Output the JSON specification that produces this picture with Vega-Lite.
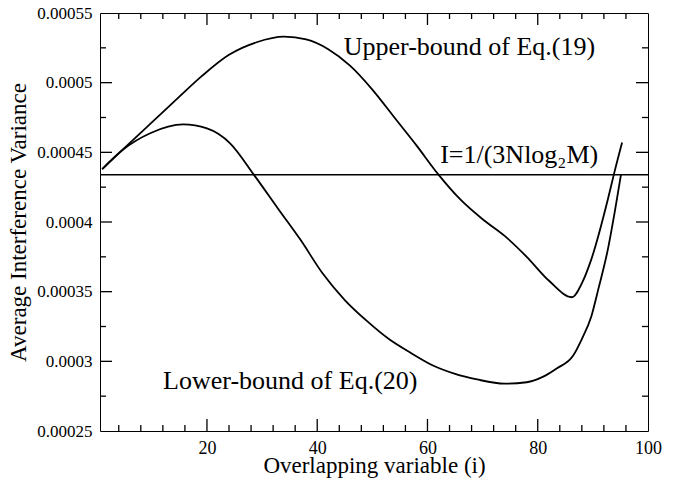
{
  "$schema": "https://vega.github.io/schema/vega-lite/v6.json",
  "autosize": {"type": "none"},
  "padding": {"left": 100, "top": 13, "right": 25, "bottom": 52},
  "width": 548,
  "height": 418,
  "background": "white",
  "config": {
    "view": {"stroke": "#000", "strokeWidth": 1},
    "font": "Liberation Serif"
  },
  "datasets": {
    "curves": [
      {"series": "upper", "x": 1, "y": 0.000438},
      {"series": "upper", "x": 5, "y": 0.000453},
      {"series": "upper", "x": 10, "y": 0.0004715},
      {"series": "upper", "x": 15, "y": 0.00049},
      {"series": "upper", "x": 19, "y": 0.0005045},
      {"series": "upper", "x": 24, "y": 0.00052},
      {"series": "upper", "x": 29, "y": 0.000529},
      {"series": "upper", "x": 34, "y": 0.000533},
      {"series": "upper", "x": 38, "y": 0.000531},
      {"series": "upper", "x": 42, "y": 0.000524},
      {"series": "upper", "x": 46, "y": 0.000512},
      {"series": "upper", "x": 50, "y": 0.000495},
      {"series": "upper", "x": 54, "y": 0.000475},
      {"series": "upper", "x": 58, "y": 0.000455},
      {"series": "upper", "x": 62, "y": 0.000434},
      {"series": "upper", "x": 66, "y": 0.000416},
      {"series": "upper", "x": 70, "y": 0.000402},
      {"series": "upper", "x": 74, "y": 0.00039},
      {"series": "upper", "x": 78, "y": 0.000375},
      {"series": "upper", "x": 82, "y": 0.000358},
      {"series": "upper", "x": 86.2, "y": 0.000346},
      {"series": "upper", "x": 88, "y": 0.000356},
      {"series": "upper", "x": 89.7, "y": 0.000373},
      {"series": "upper", "x": 92.7, "y": 0.000416},
      {"series": "upper", "x": 93.8, "y": 0.000434},
      {"series": "upper", "x": 95.3, "y": 0.000457},
      {"series": "lower", "x": 1, "y": 0.000438},
      {"series": "lower", "x": 4.8, "y": 0.000452},
      {"series": "lower", "x": 9.7, "y": 0.0004637},
      {"series": "lower", "x": 15.7, "y": 0.00047},
      {"series": "lower", "x": 20, "y": 0.0004672},
      {"series": "lower", "x": 24.2, "y": 0.0004565},
      {"series": "lower", "x": 28.5, "y": 0.000434},
      {"series": "lower", "x": 33, "y": 0.000409},
      {"series": "lower", "x": 37, "y": 0.000387},
      {"series": "lower", "x": 41, "y": 0.000363},
      {"series": "lower", "x": 45, "y": 0.000344},
      {"series": "lower", "x": 49, "y": 0.000329},
      {"series": "lower", "x": 53, "y": 0.000316},
      {"series": "lower", "x": 57, "y": 0.000306},
      {"series": "lower", "x": 61, "y": 0.000297},
      {"series": "lower", "x": 65, "y": 0.000291},
      {"series": "lower", "x": 69, "y": 0.000287},
      {"series": "lower", "x": 74, "y": 0.000284},
      {"series": "lower", "x": 78, "y": 0.000285},
      {"series": "lower", "x": 81, "y": 0.000289},
      {"series": "lower", "x": 83.5, "y": 0.000295},
      {"series": "lower", "x": 86.4, "y": 0.000304},
      {"series": "lower", "x": 88, "y": 0.000316},
      {"series": "lower", "x": 89.7, "y": 0.000332},
      {"series": "lower", "x": 91, "y": 0.000352},
      {"series": "lower", "x": 92.7, "y": 0.00038},
      {"series": "lower", "x": 94, "y": 0.000408},
      {"series": "lower", "x": 95.1, "y": 0.000434}
    ],
    "hline": [
      {"x": 0.6, "y": 0.000434},
      {"x": 100, "y": 0.000434}
    ],
    "annotations": [
      {"x": 44.8, "y": 0.00052, "label": "Upper-bound of Eq.(19)"},
      {"x": 12.05, "y": 0.00028, "label": "Lower-bound of Eq.(20)"},
      {"x": 62.3, "y": 0.0004423, "label": "I=1/(3Nlog₂M)"}
    ],
    "xTicks": [
      {"v": 20, "y0": 0.00025, "y1": 0.0002586}, {"v": 40, "y0": 0.00025, "y1": 0.0002586}, {"v": 60, "y0": 0.00025, "y1": 0.0002586}, {"v": 80, "y0": 0.00025, "y1": 0.0002586},
      {"v": 20, "y0": 0.00055, "y1": 0.0005414}, {"v": 40, "y0": 0.00055, "y1": 0.0005414}, {"v": 60, "y0": 0.00055, "y1": 0.0005414}, {"v": 80, "y0": 0.00055, "y1": 0.0005414},
      {"v": 4, "y0": 0.00025, "y1": 0.0002543}, {"v": 8, "y0": 0.00025, "y1": 0.0002543}, {"v": 12, "y0": 0.00025, "y1": 0.0002543}, {"v": 16, "y0": 0.00025, "y1": 0.0002543},
      {"v": 24, "y0": 0.00025, "y1": 0.0002543}, {"v": 28, "y0": 0.00025, "y1": 0.0002543}, {"v": 32, "y0": 0.00025, "y1": 0.0002543}, {"v": 36, "y0": 0.00025, "y1": 0.0002543},
      {"v": 44, "y0": 0.00025, "y1": 0.0002543}, {"v": 48, "y0": 0.00025, "y1": 0.0002543}, {"v": 52, "y0": 0.00025, "y1": 0.0002543}, {"v": 56, "y0": 0.00025, "y1": 0.0002543},
      {"v": 64, "y0": 0.00025, "y1": 0.0002543}, {"v": 68, "y0": 0.00025, "y1": 0.0002543}, {"v": 72, "y0": 0.00025, "y1": 0.0002543}, {"v": 76, "y0": 0.00025, "y1": 0.0002543},
      {"v": 84, "y0": 0.00025, "y1": 0.0002543}, {"v": 88, "y0": 0.00025, "y1": 0.0002543}, {"v": 92, "y0": 0.00025, "y1": 0.0002543}, {"v": 96, "y0": 0.00025, "y1": 0.0002543},
      {"v": 4, "y0": 0.00055, "y1": 0.0005457}, {"v": 8, "y0": 0.00055, "y1": 0.0005457}, {"v": 12, "y0": 0.00055, "y1": 0.0005457}, {"v": 16, "y0": 0.00055, "y1": 0.0005457},
      {"v": 24, "y0": 0.00055, "y1": 0.0005457}, {"v": 28, "y0": 0.00055, "y1": 0.0005457}, {"v": 32, "y0": 0.00055, "y1": 0.0005457}, {"v": 36, "y0": 0.00055, "y1": 0.0005457},
      {"v": 44, "y0": 0.00055, "y1": 0.0005457}, {"v": 48, "y0": 0.00055, "y1": 0.0005457}, {"v": 52, "y0": 0.00055, "y1": 0.0005457}, {"v": 56, "y0": 0.00055, "y1": 0.0005457},
      {"v": 64, "y0": 0.00055, "y1": 0.0005457}, {"v": 68, "y0": 0.00055, "y1": 0.0005457}, {"v": 72, "y0": 0.00055, "y1": 0.0005457}, {"v": 76, "y0": 0.00055, "y1": 0.0005457},
      {"v": 84, "y0": 0.00055, "y1": 0.0005457}, {"v": 88, "y0": 0.00055, "y1": 0.0005457}, {"v": 92, "y0": 0.00055, "y1": 0.0005457}, {"v": 96, "y0": 0.00055, "y1": 0.0005457}
    ],
    "yTicks": [
      {"v": 0.0003, "x0": 0.6, "x1": 2.78}, {"v": 0.00035, "x0": 0.6, "x1": 2.78}, {"v": 0.0004, "x0": 0.6, "x1": 2.78}, {"v": 0.00045, "x0": 0.6, "x1": 2.78}, {"v": 0.0005, "x0": 0.6, "x1": 2.78},
      {"v": 0.0003, "x0": 100, "x1": 97.82}, {"v": 0.00035, "x0": 100, "x1": 97.82}, {"v": 0.0004, "x0": 100, "x1": 97.82}, {"v": 0.00045, "x0": 100, "x1": 97.82}, {"v": 0.0005, "x0": 100, "x1": 97.82},
      {"v": 0.000275, "x0": 0.6, "x1": 1.69}, {"v": 0.000325, "x0": 0.6, "x1": 1.69}, {"v": 0.000375, "x0": 0.6, "x1": 1.69}, {"v": 0.000425, "x0": 0.6, "x1": 1.69}, {"v": 0.000475, "x0": 0.6, "x1": 1.69}, {"v": 0.000525, "x0": 0.6, "x1": 1.69},
      {"v": 0.000275, "x0": 100, "x1": 98.91}, {"v": 0.000325, "x0": 100, "x1": 98.91}, {"v": 0.000375, "x0": 100, "x1": 98.91}, {"v": 0.000425, "x0": 100, "x1": 98.91}, {"v": 0.000475, "x0": 100, "x1": 98.91}, {"v": 0.000525, "x0": 100, "x1": 98.91}
    ]
  },
  "layer": [
    {
      "data": {"name": "curves"},
      "mark": {"type": "line", "interpolate": "monotone", "color": "#000", "strokeWidth": 1.8},
      "encoding": {
        "x": {"field": "x", "type": "quantitative",
          "scale": {"domain": [0.6, 100], "nice": false, "zero": false},
          "axis": {"orient": "bottom", "values": [20, 40, 60, 80, 100], "grid": false, "domain": false, "ticks": false, "labelFont": "Liberation Serif", "labelColor": "#000", "labelFontSize": 18, "labelPadding": 8, "labelFlush": false, "labelOverlap": false,
            "title": "Overlapping variable (i)", "titleFont": "Liberation Serif", "titleColor": "#000", "titleFontWeight": "normal", "titleFontSize": 23, "titlePadding": -3}},
        "y": {"field": "y", "type": "quantitative",
          "scale": {"domain": [0.00025, 0.00055], "nice": false, "zero": false},
          "axis": {"orient": "left", "values": [0.00025, 0.0003, 0.00035, 0.0004, 0.00045, 0.0005, 0.00055], "format": "~f", "grid": false, "domain": false, "ticks": false, "labelFont": "Liberation Serif", "labelColor": "#000", "labelFontSize": 17, "labelPadding": 8, "labelFlush": false, "labelOverlap": false,
            "title": "Average Interference Variance", "titleFont": "Liberation Serif", "titleColor": "#000", "titleFontWeight": "normal", "titleFontSize": 23, "titlePadding": 6}},
        "detail": {"field": "series", "type": "nominal"}
      }
    },
    {
      "data": {"name": "xTicks"},
      "mark": {"type": "rule", "color": "#000", "strokeWidth": 1.3},
      "encoding": {
        "x": {"field": "v", "type": "quantitative"},
        "y": {"field": "y0", "type": "quantitative"},
        "y2": {"field": "y1"}
      }
    },
    {
      "data": {"name": "yTicks"},
      "mark": {"type": "rule", "color": "#000", "strokeWidth": 1.3},
      "encoding": {
        "y": {"field": "v", "type": "quantitative"},
        "x": {"field": "x0", "type": "quantitative"},
        "x2": {"field": "x1"}
      }
    },
    {
      "data": {"name": "hline"},
      "mark": {"type": "line", "color": "#000", "strokeWidth": 1.5},
      "encoding": {
        "x": {"field": "x", "type": "quantitative"},
        "y": {"field": "y", "type": "quantitative"}
      }
    },
    {
      "data": {"name": "annotations"},
      "mark": {"type": "text", "align": "left", "baseline": "alphabetic", "fontSize": 26, "font": "Liberation Serif", "color": "#000"},
      "encoding": {
        "x": {"field": "x", "type": "quantitative"},
        "y": {"field": "y", "type": "quantitative"},
        "text": {"field": "label"}
      }
    }
  ]
}
